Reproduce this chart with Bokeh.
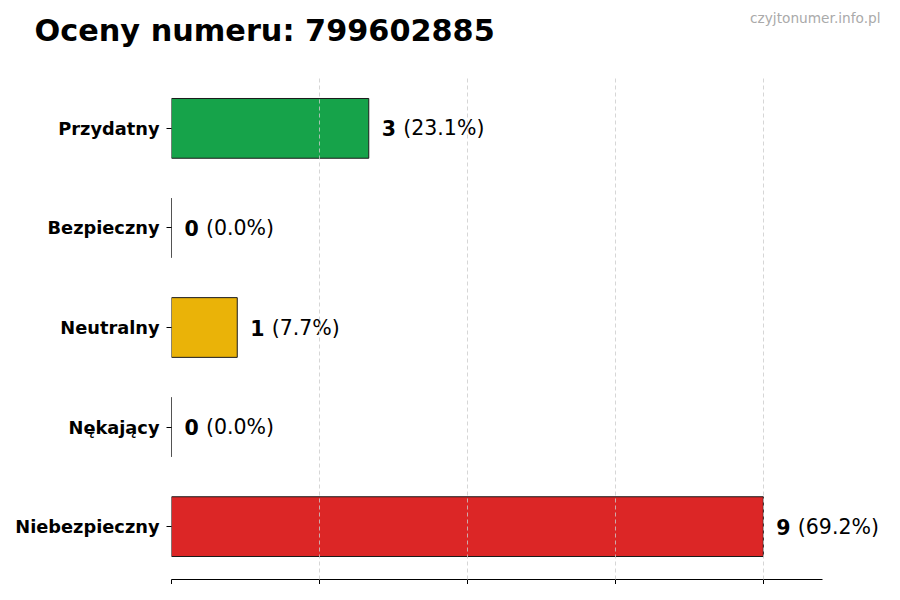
from bokeh.plotting import figure
from bokeh.models import ColumnDataSource, Range1d, FixedTicker, Label
from bokeh.core.properties import value
from bokeh.embed import file_html
from bokeh.resources import INLINE

categories = ["Przydatny", "Bezpieczny", "Neutralny", "Nękający", "Niebezpieczny"]
counts = [3, 0, 1, 0, 9]
colors = ["#16a34a", "#0ea5e9", "#eab308", "#f97316", "#dc2626"]
title_text = "Oceny numeru: 799602885"
watermark = "czyjtonumer.info.pl"
x_ticks = [0, 2.25, 4.5, 6.75, 9]

total = sum(counts)
n = len(categories)
ypos = [n - 1 - i for i in range(n)]
pct = ["(%.1f%%)" % (100.0 * c / total) for c in counts]
nums = [str(c) for c in counts]
xmax = max(counts) * 1.1
y0, y1 = -0.531, n - 1 + 0.531

W, H = 884, 584
BL, BT, BB = 171, 75, 4
AXIS_W = 651            # pixel length of the drawn x axis
FW = W - BL             # frame reaches the right edge so value labels are not clipped
FH = H - BT - BB

# pixel -> data helpers for placing the header texts (drawn outside the frame)
def px_to_x(px):
    return (px - BL) * xmax / AXIS_W

def px_to_y(py):
    return y1 - (py - BT) * (y1 - y0) / FH

src = ColumnDataSource(dict(y=ypos, right=counts, color=colors, num=nums, pct=pct))

p = figure(width=W, height=H, output_backend="svg", toolbar_location=None,
           x_range=Range1d(0, xmax * FW / AXIS_W), y_range=Range1d(y0, y1),
           min_border_left=BL, min_border_right=0, min_border_top=BT, min_border_bottom=BB,
           title_location=None)
p.outline_line_color = None

p.hbar(y="y", left=0, right="right", height=0.6, fill_color="color",
       line_color="#1a1a1a", line_width=1, source=src)

p.text(x="right", y="y", text="num", source=src, x_offset=13,
       text_font=value("DejaVu Sans"), text_font_size="20.5px", text_font_style="bold",
       text_baseline="middle", text_align="left", text_color="black")
p.text(x="right", y="y", text="pct", source=src, x_offset=34.5,
       text_font=value("DejaVu Sans"), text_font_size="20.5px",
       text_baseline="middle", text_align="left", text_color="black")

p.xaxis.ticker = FixedTicker(ticks=x_ticks)
p.xaxis.bounds = (0, xmax)
p.xaxis.major_label_overrides = {t: "" for t in x_ticks}
p.xaxis.major_label_text_font_size = "1px"
p.xaxis.major_label_standoff = 0
p.xaxis.major_tick_out = 5
p.xaxis.major_tick_in = 0
p.xaxis.minor_tick_line_color = None
p.xaxis.axis_line_color = "black"
p.xaxis.major_tick_line_color = "black"

p.yaxis.ticker = FixedTicker(ticks=ypos)
p.yaxis.major_label_overrides = {y: c for y, c in zip(ypos, categories)}
p.yaxis.axis_line_color = None
p.yaxis.major_tick_out = 5
p.yaxis.major_tick_in = 0
p.yaxis.minor_tick_line_color = None
p.yaxis.major_tick_line_color = "black"
p.yaxis.major_label_standoff = 7
p.yaxis.major_label_text_font = "DejaVu Sans"
p.yaxis.major_label_text_font_style = "bold"
p.yaxis.major_label_text_font_size = "17.8px"
p.yaxis.major_label_text_color = "black"

p.ygrid.grid_line_color = None
p.xgrid.ticker = FixedTicker(ticks=x_ticks)
p.xgrid.grid_line_color = "#cccccc"
p.xgrid.grid_line_dash = "4 3"
p.xgrid.grid_line_width = 0.8
p.xgrid.level = "overlay"

# header texts live in the top panel (not clipped to the frame)
p.add_layout(Label(x=px_to_x(34), y=px_to_y(29.5), text=title_text,
                   text_font="DejaVu Sans", text_font_style="bold", text_font_size="30.3px",
                   text_color="black", text_align="left", text_baseline="alphabetic"), "above")
p.add_layout(Label(x=px_to_x(880), y=px_to_y(17), text=watermark,
                   text_font="DejaVu Sans", text_font_size="13.7px", text_color="#aaaaaa",
                   text_align="right", text_baseline="middle"), "above")

open("out.html", "w").write(file_html(p, INLINE))
